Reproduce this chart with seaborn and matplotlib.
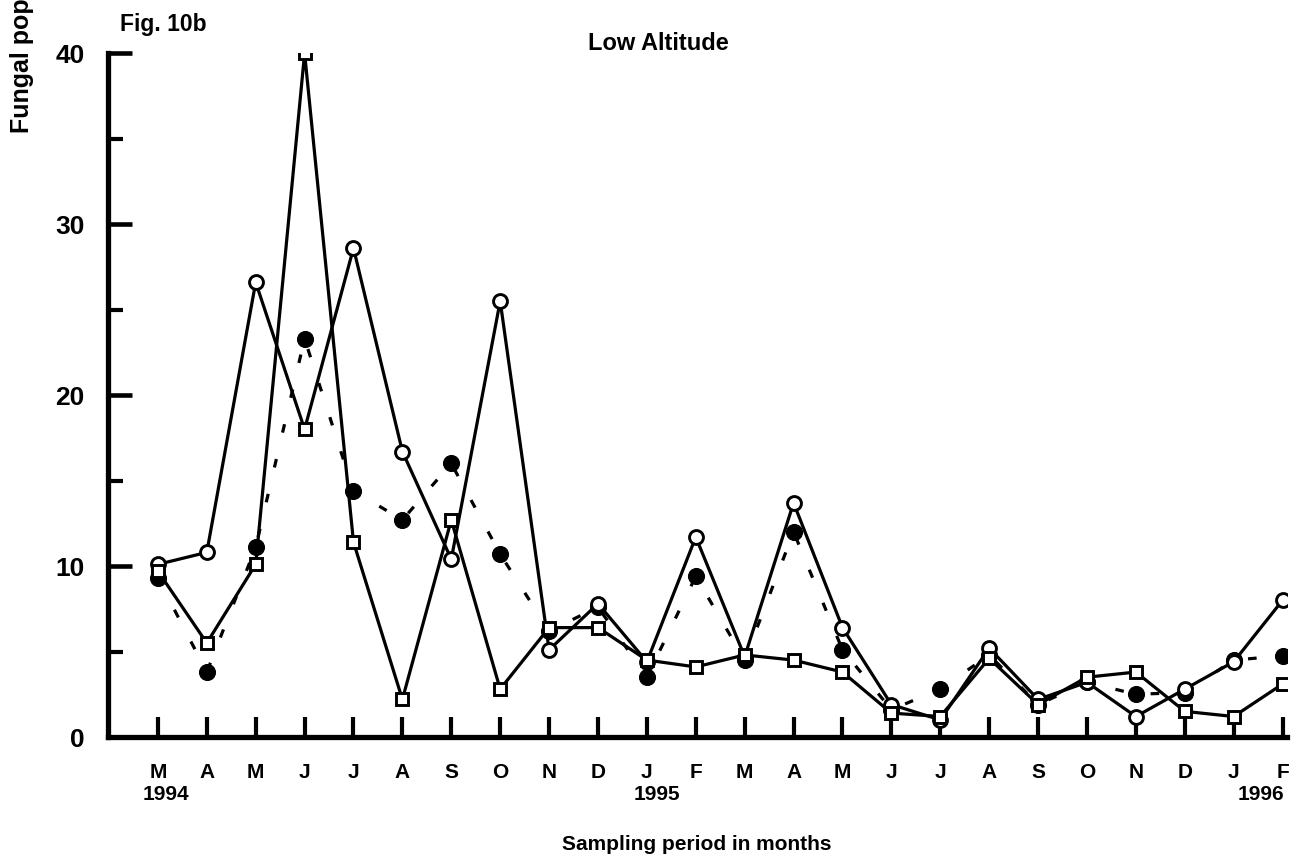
import numpy as np
import pandas as pd
import matplotlib
matplotlib.use("Agg")
import matplotlib.pyplot as plt
from matplotlib.ticker import MultipleLocator, FixedLocator
from matplotlib.transforms import blended_transform_factory
import seaborn as sns

# ---- data ----
months = ["M", "A", "M", "J", "J", "A", "S", "O", "N", "D", "J", "F",
          "M", "A", "M", "J", "J", "A", "S", "O", "N", "D", "J", "F"]
years = ["1994", "1995", "1996"]
year_at_month = [0, 10, 23]

open_circles = [10.1, 10.8, 26.6, 18.0, 28.6, 16.7, 10.4, 25.5, 5.1, 7.8, 4.4, 11.7,
                4.7, 13.7, 6.4, 1.9, 1.0, 5.2, 2.2, 3.2, 1.2, 2.8, 4.4, 8.0]
filled_circles = [9.3, 3.8, 11.1, 23.3, 14.4, 12.7, 16.0, 10.7, 6.2, 7.6, 3.5, 9.4,
                  4.5, 12.0, 5.1, 1.6, 2.8, 4.8, 1.9, 3.2, 2.5, 2.6, 4.5, 4.75]
open_squares = [9.7, 5.5, 10.1, 40.0, 11.4, 2.2, 12.7, 2.8, 6.4, 6.4, 4.5, 4.1,
                4.8, 4.5, 3.8, 1.4, 1.2, 4.6, 1.9, 3.5, 3.8, 1.5, 1.2, 3.1]
y_ticks = [0, 10, 20, 30, 40]

sns.set_style("ticks")
plt.rcParams["font.family"] = ["Liberation Sans", "DejaVu Sans"]
plt.rcParams["font.weight"] = "bold"
plt.rcParams["text.color"] = "black"
plt.rcParams["xtick.labelcolor"] = "black"
plt.rcParams["ytick.labelcolor"] = "black"

idx = np.arange(len(months))
df = pd.DataFrame({"idx": idx, "open_c": open_circles,
                   "filled_c": filled_circles, "open_s": open_squares})

fig = plt.figure(figsize=(13.03, 8.58), dpi=100)
ax = fig.add_axes([0.0829, 0.141, 0.9048, 0.797])

lw = 2.3
# filled circles, dashed line
sns.lineplot(data=df, x="idx", y="filled_c", ax=ax, color="black", lw=lw,
             linestyle=(0, (2.7, 8.5)), marker="o", ms=11.5,
             markerfacecolor="black", markeredgecolor="black", mew=0.8, zorder=3)
# open circles, solid line (the June 1994 point is printed as a square)
circ_marks = [i for i in idx if i != 3]
sns.lineplot(data=df, x="idx", y="open_c", ax=ax, color="black", lw=lw,
             linestyle="-", marker="o", ms=10, markevery=circ_marks,
             markerfacecolor="white", markeredgecolor="black", mew=2.1, zorder=4)
odd = df.iloc[[3]]
sns.lineplot(data=odd, x="idx", y="open_c", ax=ax, color="black", lw=0,
             linestyle="", marker="s", ms=8.6,
             markerfacecolor="white", markeredgecolor="black", mew=2.1, zorder=5)
# open squares, solid line
sns.lineplot(data=df, x="idx", y="open_s", ax=ax, color="black", lw=lw,
             linestyle="-", marker="s", ms=8.6,
             markerfacecolor="white", markeredgecolor="black", mew=2.1, zorder=5)

ax.set_xlim(-1.02, 23.09)
ax.set_ylim(0, 40)

for s in ["top", "right"]:
    ax.spines[s].set_visible(False)
for s in ["left", "bottom"]:
    ax.spines[s].set_linewidth(3.8)
    ax.spines[s].set_color("black")

ax.xaxis.set_major_locator(FixedLocator(idx))
ax.set_xticklabels(months, fontsize=15, fontweight="heavy")
ax.yaxis.set_major_locator(FixedLocator(y_ticks))
ax.set_yticklabels([str(v) for v in y_ticks], fontsize=19, fontweight="heavy")
ax.yaxis.set_minor_locator(MultipleLocator(5))

ax.tick_params(axis="x", which="major", direction="in", length=14.5, width=3.0,
               pad=19, color="black")
ax.tick_params(axis="y", which="major", direction="in", length=17, width=3.3,
               pad=17, color="black")
ax.tick_params(axis="y", which="minor", direction="in", length=11, width=3.0,
               color="black")

ax.set_xlabel("")
ax.set_ylabel("")

# year labels below month labels
trans = blended_transform_factory(ax.transData, ax.transAxes)
year_y = -0.084
ax.text(year_at_month[0] - 0.31, year_y, years[0], transform=trans, ha="left",
        va="center", fontsize=15, fontweight="heavy")
ax.text(year_at_month[1] + 0.2, year_y, years[1], transform=trans, ha="center",
        va="center", fontsize=15, fontweight="heavy")
ax.text(year_at_month[2] + 0.03, year_y, years[2], transform=trans, ha="right",
        va="center", fontsize=15, fontweight="heavy")

# titles and axis labels
fig.text(658 / 1303, 1 - 44 / 858, "Low Altitude", ha="center", va="center",
         fontsize=17, fontweight="heavy")
fig.text(120 / 1303, 1 - 24 / 858, "Fig. 10b", ha="left", va="center",
         fontsize=16.5, fontweight="heavy")
fig.text(697 / 1303, 1 - 845 / 858, "Sampling period in months", ha="center",
         va="center", fontsize=15, fontweight="heavy")
fig.text(22 / 1303, 1 - 133 / 858, "Fungal population", rotation=90,
         ha="center", va="bottom", fontsize=18, fontweight="heavy")

fig.savefig("out.png", dpi=100)
